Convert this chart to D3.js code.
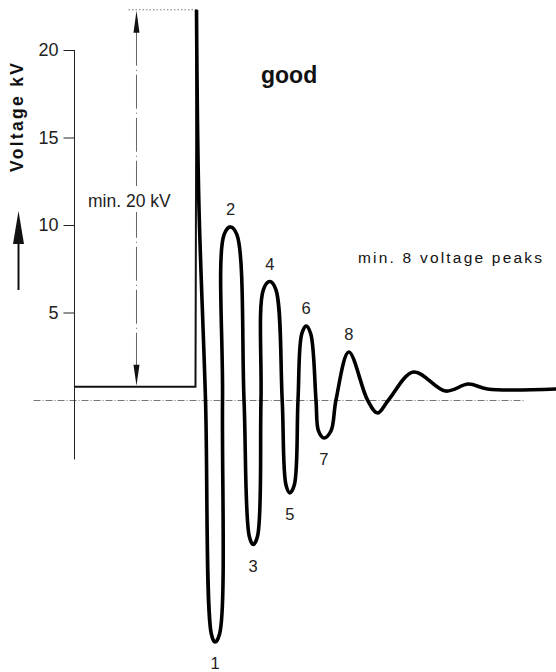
<!DOCTYPE html>
<html>
<head>
<meta charset="utf-8">
<script src="https://cdn.jsdelivr.net/npm/d3@7"></script>
<style>
  body { margin: 0; background: #fff; }
  svg { display: block; font-family: "Liberation Sans", Arial, sans-serif; }
</style>
</head>
<body>
<div id="chart"></div>
<script>
// y axis ticks (kV)
const tickValues = [5, 10, 15, 20];

// charging level before the spark, then the rise (time in arbitrary units, voltage in kV)
const preTime = [-25, 0.1, 0.31];
const preVolt = [0.76, 0.76, 22.3];

// ringing after the spark (crossings, tip shoulders, extremes)
const ringTime = [0.31, 0.79, 2.18, 3.39, 4.15, 5.10, 5.71, 6.02, 7.37, 8.71, 10.17,
  11.27, 12.07, 12.96, 13.69, 14.19, 15.52, 16.78, 18.09, 18.88, 19.67, 20.6, 21.37,
  22.14, 23.07, 24.02, 25.1, 25.62, 26.72, 28.2, 29.25, 31.91, 35.79, 37.86, 40.15,
  45.33, 51.97, 56.74, 60.68, 75];
const ringVolt = [22.3, 11.43, 0, -13.37, -13.83, -13.37, 0, 9.43, 9.89, 9.43, 0,
  -7.8, -8.26, -7.8, 0, 6.31, 6.77, 6.31, 0, -4.86, -5.31, -4.86, 0,
  3.77, 4.23, 3.77, 0, -1.77, -2.17, -1.77, 0, 2.74, 0, -0.74, 0,
  1.6, 0.51, 0.91, 0.63, 0.63];

// numbered voltage peaks
const peakLabels = ["1", "2", "3", "4", "5", "6", "7", "8"];
const peakTime = [4.15, 7.37, 12.07, 15.52, 19.67, 23.07, 26.72, 31.91];
const peakVolt = [-13.83, 9.89, -8.26, 6.77, -5.31, 4.23, -2.17, 2.74];

const width = 556, height = 672;

const svg = d3.select("#chart").append("svg")
  .attr("width", width)
  .attr("height", height);

const x = d3.scaleLinear().domain([-25, 75]).range([74.5, 556.5]);
const y = d3.scaleLinear().domain([0, 20]).range([400, 50]);

// zero line
svg.append("line")
  .attr("x1", x(-33.5)).attr("x2", x(68.2))
  .attr("y1", y(0) + 0.5).attr("y2", y(0) + 0.5)
  .attr("stroke", "#777").attr("stroke-width", 1)
  .attr("stroke-dasharray", "7,2,1,2");

// y axis
const axis = svg.append("g")
  .attr("transform", `translate(${x(-25)},0)`)
  .call(d3.axisLeft(y).tickValues(tickValues).tickSize(11).tickPadding(5));
axis.select(".domain").remove();
axis.selectAll(".tick line").attr("stroke", "#222");
axis.selectAll(".tick text")
  .attr("font-size", 18)
  .attr("font-family", "Liberation Sans, Arial, sans-serif")
  .attr("fill", "#222");
axis.append("line")
  .attr("x1", 0).attr("x2", 0)
  .attr("y1", y(20)).attr("y2", y(-3.4))
  .attr("stroke", "#222").attr("stroke-width", 1);

// axis title + arrow
svg.append("text")
  .attr("transform", "translate(23,172) rotate(-90)")
  .attr("font-size", 17.5)
  .attr("font-weight", "bold")
  .attr("textLength", 109)
  .attr("lengthAdjust", "spacing")
  .attr("fill", "#111")
  .text("Voltage  kV");
svg.append("line")
  .attr("x1", 18.5).attr("x2", 18.5).attr("y1", 240).attr("y2", 290)
  .attr("stroke", "#111").attr("stroke-width", 2);
svg.append("path")
  .attr("d", "M18.5,211 L24,244 L13,244 Z")
  .attr("fill", "#111");

// min. 20 kV marker
const xm = x(-12.14);
svg.append("line")
  .attr("x1", x(-13.8)).attr("x2", x(0.31))
  .attr("y1", y(22.3)).attr("y2", y(22.3))
  .attr("stroke", "#777").attr("stroke-width", 1)
  .attr("stroke-dasharray", "1.5,2");
svg.append("line")
  .attr("x1", xm).attr("x2", xm)
  .attr("y1", y(22.3) + 22).attr("y2", y(0.76) - 20)
  .attr("stroke", "#666").attr("stroke-width", 1)
  .attr("stroke-dasharray", "34,4,1,4");
svg.append("path")
  .attr("d", `M${xm},${y(22.3) + 1} L${xm + 3},${y(22.3) + 23} L${xm - 3},${y(22.3) + 23} Z`)
  .attr("fill", "#111");
svg.append("path")
  .attr("d", `M${xm},${y(0.76) - 1} L${xm + 3},${y(0.76) - 22} L${xm - 3},${y(0.76) - 22} Z`)
  .attr("fill", "#111");
svg.append("rect")
  .attr("x", 86).attr("y", 186).attr("width", 88).attr("height", 26)
  .attr("fill", "#fff");
svg.append("text")
  .attr("x", 88).attr("y", 207)
  .attr("font-size", 17.5)
  .attr("fill", "#222")
  .text("min. 20 kV");

// curve
const line = d3.line().x(d => x(d[0])).y(d => y(d[1]));

svg.append("path")
  .datum(d3.zip(preTime, preVolt))
  .attr("d", line)
  .attr("fill", "none")
  .attr("stroke", "#111")
  .attr("stroke-width", 2);

svg.append("path")
  .datum(d3.zip(ringTime, ringVolt))
  .attr("d", line.curve(d3.curveCatmullRom.alpha(0.5)))
  .attr("fill", "none")
  .attr("stroke", "#000")
  .attr("stroke-width", 3.6)
  .attr("stroke-linejoin", "round");

// peak numbers
svg.selectAll(".peak")
  .data(peakLabels)
  .enter().append("text")
  .attr("class", "peak")
  .attr("x", (d, i) => x(peakTime[i]))
  .attr("y", (d, i) => y(peakVolt[i]) + (peakVolt[i] > 0 ? -12 : 27))
  .attr("text-anchor", "middle")
  .attr("font-size", 16.5)
  .attr("fill", "#222")
  .text(d => d);

// notes
svg.append("text")
  .attr("x", 261).attr("y", 83)
  .attr("font-size", 23)
  .attr("font-weight", "bold")
  .attr("fill", "#111")
  .text("good");

svg.append("text")
  .attr("x", 358).attr("y", 263)
  .attr("font-size", 15.5)
  .attr("textLength", 184)
  .attr("lengthAdjust", "spacing")
  .attr("fill", "#111")
  .text("min. 8 voltage peaks");
</script>
</body>
</html>
